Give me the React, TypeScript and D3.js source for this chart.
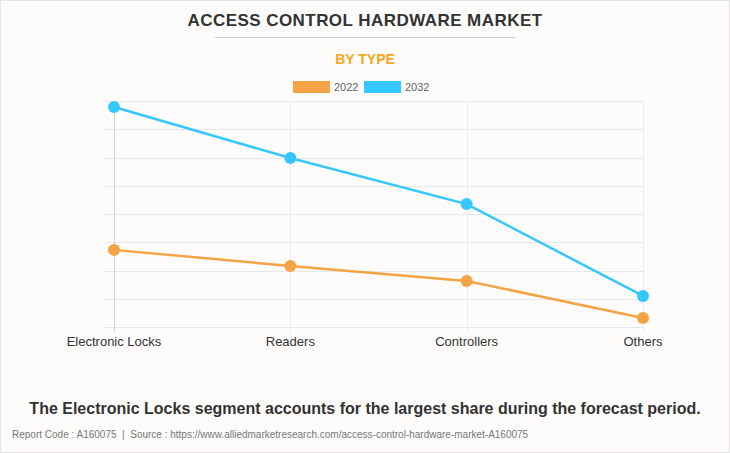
import * as d3 from 'd3'

const categories = ['Electronic Locks', 'Readers', 'Controllers', 'Others']
const values2022 = [2.73, 2.16, 1.63, 0.32]
const values2032 = [7.79, 5.98, 4.35, 1.1]
const yTicks = [0, 1, 2, 3, 4, 5, 6, 7, 8]

const W = 730
const H = 453
const FONT = '"Liberation Sans", Arial, sans-serif'
const ORANGE = '#f4a444'
const BLUE = '#35c8fe'

const App = () => {
  const x = d3.scalePoint<string>().domain(categories).range([114, 643])
  const y = d3.scaleLinear().domain([0, 8]).range([327, 101])
  const line = d3
    .line<number>()
    .x((d, i) => x(categories[i]) as number)
    .y((d) => y(d))

  const series = [
    { name: '2022', values: values2022, color: ORANGE },
    { name: '2032', values: values2032, color: BLUE },
  ]

  return (
    <div style={{ position: 'fixed', left: 0, top: 0, width: W, height: H }}>
      <svg width={W} height={H} style={{ display: 'block', fontFamily: FONT }}>
        <rect x={0.5} y={0.5} width={W - 1} height={H - 1} fill='#fdfcfb' stroke='#e4e4e4' />
        <text x={365} y={26} textAnchor='middle' fontSize={17} fontWeight='bold' fill='#333' letterSpacing={0.45}>
          ACCESS CONTROL HARDWARE MARKET
        </text>
        <line x1={215} x2={515} y1={37.5} y2={37.5} stroke='#c8c8c8' />
        <text x={365} y={64} textAnchor='middle' fontSize={14} fontWeight='bold' fill='#f5a623'>
          BY TYPE
        </text>

        {/* legend */}
        {series.map((s, i) => (
          <g key={s.name} transform={`translate(${293 + i * 71}, 81)`}>
            <rect width={37} height={12} fill={s.color} />
            <text x={41} y={10} fontSize={11} fill='#666'>
              {s.name}
            </text>
          </g>
        ))}

        {/* grid */}
        {yTicks.map((t) => (
          <line key={t} x1={105} x2={644} y1={Math.round(y(t)) + 0.5} y2={Math.round(y(t)) + 0.5} stroke='#e8e8e8' />
        ))}
        {categories.map((c, i) => (
          <line
            key={c}
            x1={Math.round(x(c) as number) + 0.5}
            x2={Math.round(x(c) as number) + 0.5}
            y1={101}
            y2={332}
            stroke={i === 0 ? '#d4d4d4' : '#ececec'}
          />
        ))}

        {/* lines */}
        {series.map((s) => (
          <g key={s.name}>
            <path d={line(s.values) || ''} fill='none' stroke={s.color} strokeWidth={2.5} />
            {s.values.map((v, i) => (
              <circle key={i} cx={x(categories[i])} cy={y(v)} r={6} fill={s.color} />
            ))}
          </g>
        ))}

        {/* x labels */}
        {categories.map((c) => (
          <text key={c} x={x(c)} y={346} textAnchor='middle' fontSize={13} fill='#333'>
            {c}
          </text>
        ))}

        <text x={365} y={414} textAnchor='middle' fontSize={16} fontWeight='bold' fill='#333'>
          The Electronic Locks segment accounts for the largest share during the forecast period.
        </text>
        <text x={12} y={438} fontSize={10} fill='#777' style={{ whiteSpace: 'pre' }}>
          {'Report Code : A160075  |  Source : https://www.alliedmarketresearch.com/access-control-hardware-market-A160075'}
        </text>
      </svg>
    </div>
  )
}

export default App
